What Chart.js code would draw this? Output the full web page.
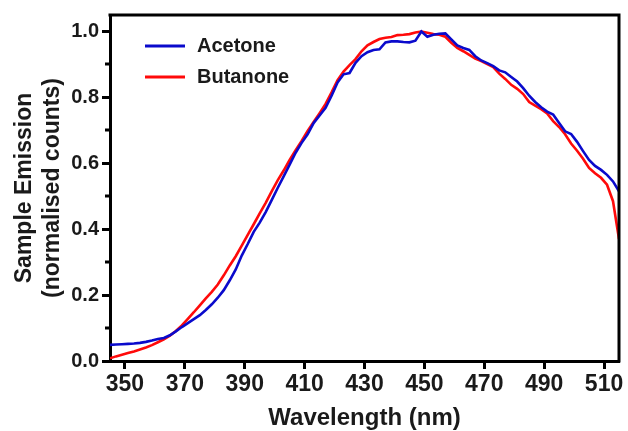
<!DOCTYPE html>
<html>
<head>
<meta charset="utf-8">
<script src="https://cdn.jsdelivr.net/npm/chart.js@4/dist/chart.umd.min.js"></script>
<style>
    html, body { margin: 0; padding: 0; background: #fff; }
    #wrap { width: 628px; height: 431px; }
</style>
</head>
<body>
<div id="wrap"><canvas id="emission-chart" width="628" height="431"></canvas></div>
<script>
// Dados
const wavelengths = [
    345, 347, 349, 351, 353, 355, 357, 359, 361, 363,
    365, 367, 369, 371, 373, 375, 377, 379, 381, 383,
    385, 387, 389, 391, 393, 395, 397, 399, 401, 403,
    405, 407, 409, 411, 413, 415, 417, 419, 421, 423,
    425, 427, 429, 431, 433, 435, 437, 439, 441, 443,
    445, 447, 449, 451, 453, 455, 457, 459, 461, 463,
    465, 467, 469, 471, 473, 475, 477, 479, 481, 483,
    485, 487, 489, 491, 493, 495, 497, 499, 501, 503,
    505, 507, 509, 511, 513, 515
];

const acetone = [
    0.049, 0.050, 0.051, 0.052, 0.053, 0.055, 0.058, 0.062, 0.067, 0.070,
    0.078, 0.090, 0.103, 0.115, 0.127, 0.139, 0.155, 0.172, 0.192, 0.215,
    0.245, 0.278, 0.320, 0.355, 0.392, 0.420, 0.452, 0.488, 0.525, 0.560,
    0.596, 0.632, 0.662, 0.688, 0.722, 0.745, 0.768, 0.805, 0.845, 0.870,
    0.874, 0.905, 0.925, 0.937, 0.944, 0.946, 0.967, 0.970, 0.970, 0.968,
    0.967, 0.972, 1.000, 0.984, 0.990, 0.993, 0.994, 0.976, 0.958, 0.950,
    0.944, 0.925, 0.912, 0.904, 0.895, 0.882, 0.876, 0.862, 0.848, 0.828,
    0.805, 0.786, 0.770, 0.757, 0.748, 0.722, 0.697, 0.689, 0.665, 0.637,
    0.610, 0.592, 0.580, 0.565, 0.545, 0.515
];

const butanone = [
    0.008, 0.014, 0.019, 0.024, 0.029, 0.035, 0.041, 0.048, 0.057, 0.066,
    0.077, 0.091, 0.108, 0.128, 0.148, 0.169, 0.190, 0.210, 0.232, 0.260,
    0.290, 0.318, 0.350, 0.383, 0.415, 0.448, 0.480, 0.515, 0.548, 0.578,
    0.610, 0.640, 0.668, 0.698, 0.725, 0.752, 0.780, 0.815, 0.852, 0.878,
    0.898, 0.916, 0.940, 0.958, 0.968, 0.977, 0.981, 0.983, 0.989, 0.990,
    0.992, 0.997, 1.000, 0.996, 0.992, 0.990, 0.984, 0.966, 0.950, 0.940,
    0.929, 0.918, 0.910, 0.901, 0.892, 0.872, 0.856, 0.838, 0.826, 0.810,
    0.786, 0.775, 0.764, 0.751, 0.728, 0.710, 0.688, 0.660, 0.638, 0.614,
    0.586, 0.570, 0.556, 0.535, 0.485, 0.370
];

const xTicks = [350, 370, 390, 410, 430, 450, 470, 490, 510];
const yTicks = [0, 0.2, 0.4, 0.6, 0.8, 1.0];
const yMinorTicks = [0.1, 0.3, 0.5, 0.7, 0.9];

const FONT = '"Liberation Sans", Arial, sans-serif';

const toPoints = (values) => values.map((v, i) => ({ x: wavelengths[i], y: v }));

// moldura superior/direita, ticks menores e legenda dentro do gráfico
const framePlugin = {
    id: 'frame',
    afterDraw: function(chart) {
        const ctx = chart.ctx;
        const area = chart.chartArea;
        const yScale = chart.scales.y;

        ctx.save();
        ctx.strokeStyle = '#000';
        ctx.lineWidth = 3;
        ctx.beginPath();
        ctx.moveTo(area.left - 1.5, area.top);
        ctx.lineTo(area.right, area.top);
        ctx.lineTo(area.right, area.bottom + 1.5);
        ctx.stroke();

        yMinorTicks.forEach(v => {
            const py = Math.round(yScale.getPixelForValue(v));
            ctx.beginPath();
            ctx.moveTo(area.left - 5, py);
            ctx.lineTo(area.left, py);
            ctx.stroke();
        });

        ctx.font = 'bold 20px ' + FONT;
        ctx.textBaseline = 'middle';
        ctx.fillStyle = '#1a1a1a';
        chart.data.datasets.forEach((ds, i) => {
            const ly = 46 + i * 31;
            ctx.strokeStyle = ds.borderColor;
            ctx.lineWidth = 3;
            ctx.beginPath();
            ctx.moveTo(145, ly);
            ctx.lineTo(185, ly);
            ctx.stroke();
            ctx.fillText(ds.label, 197, ly);
        });
        ctx.restore();
    }
};

const ctx = document.getElementById('emission-chart').getContext('2d');

new Chart(ctx, {
    type: 'line',
    data: {
        datasets: [{
            label: 'Acetone',
            data: toPoints(acetone),
            borderColor: '#0a0acc',
            borderWidth: 2.6,
            pointRadius: 0,
            tension: 0
        }, {
            label: 'Butanone',
            data: toPoints(butanone),
            borderColor: '#ff0a0a',
            borderWidth: 2.6,
            pointRadius: 0,
            tension: 0
        }]
    },
    options: {
        responsive: false,
        animation: false,
        devicePixelRatio: 1,
        layout: {
            padding: { top: 13, right: 9, left: 0, bottom: 0 }
        },
        plugins: {
            legend: { display: false },
            tooltip: { enabled: false }
        },
        scales: {
            x: {
                type: 'linear',
                min: 345,
                max: 515,
                afterBuildTicks: (scale) => { scale.ticks = xTicks.map(v => ({ value: v })); },
                afterFit: (scale) => { scale.height = 70; },
                border: { display: true, color: '#000', width: 3 },
                grid: { drawOnChartArea: false, drawTicks: true, tickLength: 8, tickWidth: 3, tickColor: '#000' },
                ticks: {
                    color: '#1a1a1a',
                    padding: 2,
                    maxRotation: 0,
                    font: { family: FONT, size: 23, weight: 'bold' },
                    callback: (v) => String(v)
                },
                title: {
                    display: true,
                    text: 'Wavelength (nm)',
                    color: '#1a1a1a',
                    padding: { top: 0, bottom: 1 },
                    font: { family: FONT, size: 24, weight: 'bold', lineHeight: 1 }
                }
            },
            y: {
                min: 0,
                max: 1.05,
                afterBuildTicks: (scale) => { scale.ticks = yTicks.map(v => ({ value: v })); },
                afterFit: (scale) => { scale.width = 110; },
                border: { display: true, color: '#000', width: 3 },
                grid: { drawOnChartArea: false, drawTicks: true, tickLength: 8, tickWidth: 3, tickColor: '#000' },
                ticks: {
                    color: '#1a1a1a',
                    padding: 3,
                    font: { family: FONT, size: 20, weight: 'bold' },
                    callback: (v) => v.toFixed(1)
                },
                title: {
                    display: true,
                    text: ['Sample Emission', '(normalised counts)'],
                    color: '#1a1a1a',
                    padding: { top: 10, bottom: 0 },
                    font: { family: FONT, size: 23, weight: 'bold', lineHeight: 1.24 }
                }
            }
        }
    },
    plugins: [framePlugin]
});
</script>
</body>
</html>
